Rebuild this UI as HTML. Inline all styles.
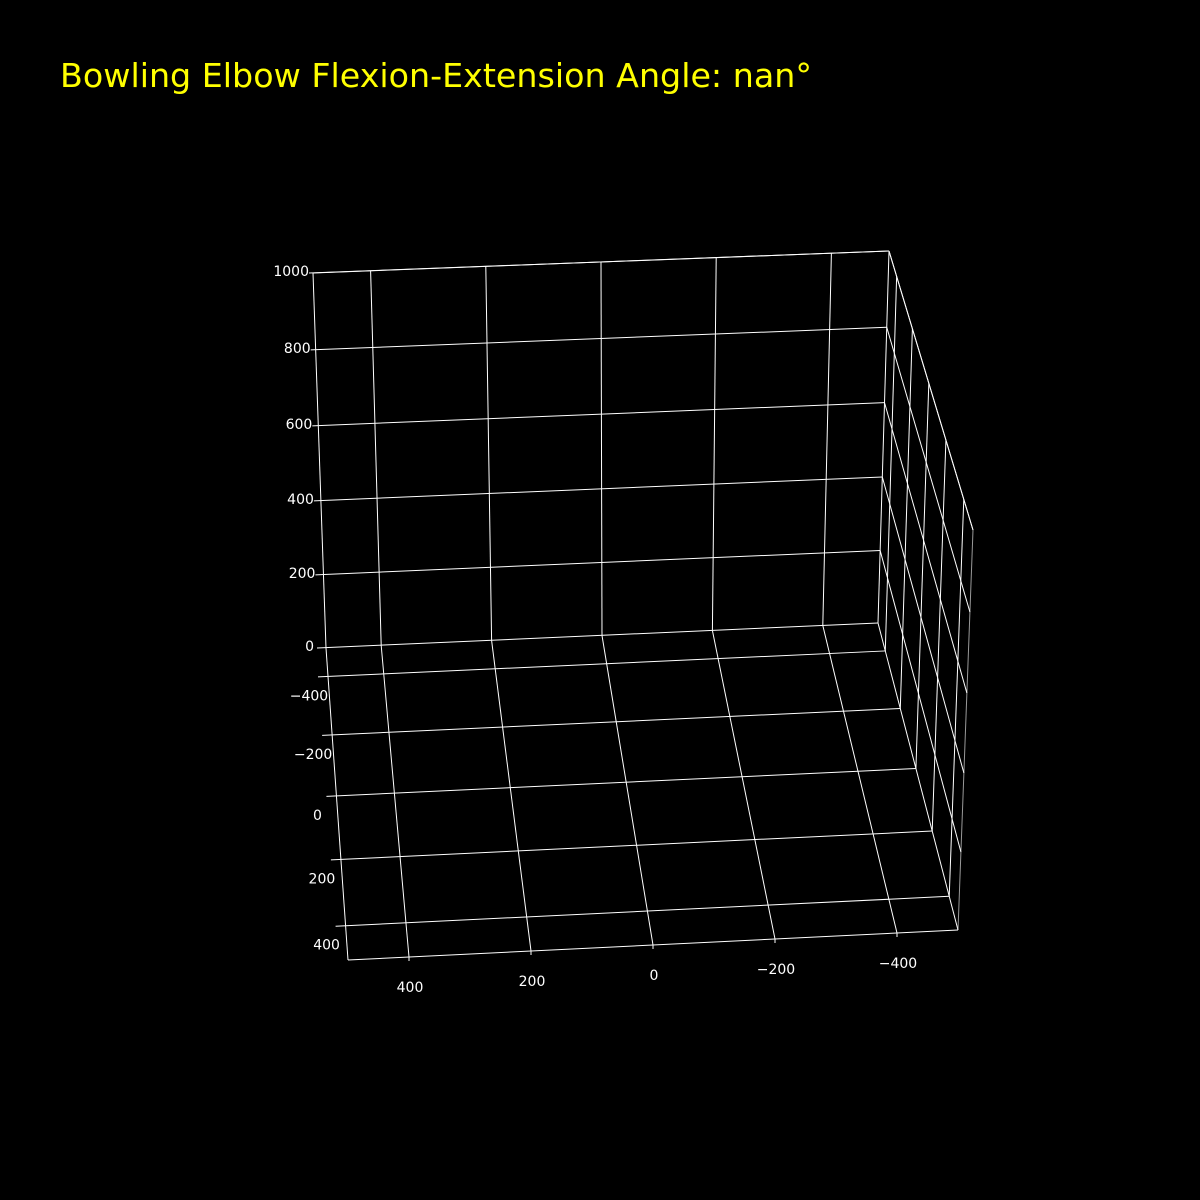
<!DOCTYPE html>
<html><head><meta charset="utf-8">
<style>
html,body{margin:0;padding:0;background:#000;}
svg{display:block;}
text{font-family:"DejaVu Sans","Liberation Sans",sans-serif;}
</style></head>
<body>
<svg id="chart" width="1200" height="1200" viewBox="0 0 1200 1200">
<rect width="1200" height="1200" fill="#000"/>
<text x="60" y="87" fill="#ffff00" font-size="33.3">Bowling Elbow Flexion-Extension Angle: nan°</text>
<g id="grid"></g>
</svg>
<script>
const xTicks = [400, 200, 0, -200, -400];
const yTicks = [-400, -200, 0, 200, 400];
const zTicks = [0, 200, 400, 600, 800, 1000];
const xRange = [500, -500];
const yRange = [-500, 500];
const zRange = [0, 1000];
// screen corners of the 3D box [x-left/right][y-back/front][z-bottom/top]
const C = {
  '000':[326,648],'100':[878,623],'010':[348,960],'110':[958,930],
  '001':[313,273],'101':[889,251],'011':[344,585],'111':[973,530]
};
function norm(v,r){return (v-r[0])/(r[1]-r[0]);}
function persp(t,a){return t*a/(1-t+t*a);}
function proj(x,y,z){
  const u=norm(x,xRange), v=persp(norm(y,yRange),0.901), w=persp(norm(z,zRange),0.969);
  let px=0,py=0;
  for(const a of [0,1])for(const b of [0,1])for(const c of [0,1]){
    const wt=(a?u:1-u)*(b?v:1-v)*(c?w:1-w);
    const p=C[''+a+b+c];px+=wt*p[0];py+=wt*p[1];
  }
  return [px,py];
}
const g=document.getElementById('grid');
const NS='http://www.w3.org/2000/svg';
function line(p,q,name,color,w){
  const l=document.createElementNS(NS,'line');
  l.setAttribute('x1',p[0]);l.setAttribute('y1',p[1]);l.setAttribute('x2',q[0]);l.setAttribute('y2',q[1]);
  l.setAttribute('stroke',color||'#fff');l.setAttribute('stroke-width',w||1);
  
  
  g.appendChild(l);
}
function label(p,s,anchor,name){
  const t=document.createElementNS(NS,'text');
  t.setAttribute('x',p[0]);t.setAttribute('y',p[1]);t.setAttribute('fill','#fff');
  t.setAttribute('font-size','14');t.setAttribute('text-anchor',anchor);
  t.setAttribute('dominant-baseline','middle');
  t.textContent=s;
  
  
  g.appendChild(t);
}
const X0=xRange[0],X1=xRange[1],Y0=yRange[0],Y1=yRange[1],Z0=zRange[0],Z1=zRange[1];
const fmt=v=>String(v).replace('-','\u2212');
// pane edges
line(proj(X0,Y0,Z0),proj(X0,Y0,Z1),'back-pane-left-edge');
line(proj(X0,Y0,Z1),proj(X1,Y0,Z1),'back-pane-top-edge');
line(proj(X1,Y0,Z1),proj(X1,Y0,Z0),'back-pane-right-edge');
line(proj(X0,Y0,Z0),proj(X0,Y1,Z0),'floor-left-edge');
line(proj(X0,Y1,Z0),proj(X1,Y1,Z0),'floor-front-edge');
line(proj(X1,Y0,Z1),proj(X1,Y1,Z1),'side-pane-top-edge');
line(proj(X1,Y1,Z1),proj(X1,Y1,Z0),'side-pane-front-edge','#999');
// x gridlines
xTicks.forEach(x=>{
  line(proj(x,Y0,Z0),proj(x,Y0,Z1),'x-gridline-back');
  line(proj(x,Y0,Z0),proj(x,Y1,Z0),'x-gridline-floor');
  const p=proj(x,Y1,Z0);
  line(p,[p[0],p[1]+4],'x-tick');
  label([p[0]+1,p[1]+31],fmt(x),'middle','x-tick-label');
});
// y gridlines
yTicks.forEach(y=>{
  const a=proj(X0,y,Z0);
  line([a[0]-10,a[1]+0.5],proj(X1,y,Z0),'y-gridline-floor');
  line(proj(X1,y,Z0),proj(X1,y,Z1),'y-gridline-side');
  label([a[0]-19,a[1]+20],fmt(y),'middle','y-tick-label');
});
// z gridlines
zTicks.forEach(z=>{
  const a=proj(X0,Y0,z);
  const ext=4+5*(1-norm(z,zRange));
  line([a[0]-ext,a[1]],proj(X1,Y0,z),'z-gridline-back');
  line(proj(X1,Y0,z),proj(X1,Y1,z),'z-gridline-side');
  label([a[0]-ext-(z===0?3:0),a[1]-1],fmt(z),'end','z-tick-label');
});
</script>
</body></html>
